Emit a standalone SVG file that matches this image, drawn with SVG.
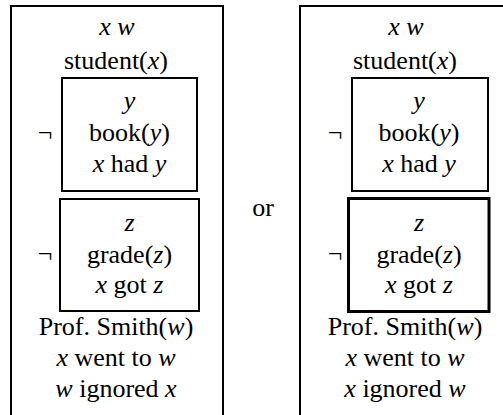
<svg xmlns="http://www.w3.org/2000/svg" width="503" height="415" viewBox="0 0 503 415" font-family="'Liberation Serif', 'Times New Roman', serif">
<style>
text{font-family:"Liberation Serif","Times New Roman",serif;font-size:26px;fill:#000;text-anchor:middle}
.i{font-style:italic}
.b{fill:none;stroke:#000;stroke-width:2}
.b3{fill:none;stroke:#000;stroke-width:3}
</style>
<rect width="503" height="415" fill="#fff"/>
<g id="left">
<path class="b" d="M11,415 V6 H223 V415"/>
<text x="117" y="35"><tspan class="i">x w</tspan></text>
<text x="116" y="69">student(<tspan class="i">x</tspan>)</text>
<g id="left-neg1">
<text x="45" y="141">¬</text>
<rect class="b" x="62" y="78" width="135" height="113"/>
<text x="129.5" y="109" class="i">y</text>
<text x="129.5" y="141">book(<tspan class="i">y</tspan>)</text>
<text x="129.5" y="172"><tspan class="i">x</tspan> had <tspan class="i">y</tspan></text>
</g>
<g id="left-neg2">
<text x="45" y="262">¬</text>
<rect class="b" x="60" y="199" width="139" height="112"/>
<text x="129.5" y="231" class="i">z</text>
<text x="129.5" y="263">grade(<tspan class="i">z</tspan>)</text>
<text x="129.5" y="293"><tspan class="i">x</tspan> got <tspan class="i">z</tspan></text>
</g>
<text x="116" y="335">Prof. Smith(<tspan class="i">w</tspan>)</text>
<text x="116" y="366"><tspan class="i">x</tspan> went to <tspan class="i">w</tspan></text>
<text x="116" y="397"><tspan class="i">w</tspan> ignored <tspan class="i">x</tspan></text>
</g>
<g id="or">
<text x="263" y="216">or</text>
</g>
<g id="right">
<path class="b" d="M300,415 V6 H505"/>
<text x="406" y="35"><tspan class="i">x w</tspan></text>
<text x="405" y="69">student(<tspan class="i">x</tspan>)</text>
<g id="right-neg1">
<text x="335" y="141">¬</text>
<rect class="b" x="352" y="78" width="136" height="113"/>
<text x="419" y="109" class="i">y</text>
<text x="419" y="141">book(<tspan class="i">y</tspan>)</text>
<text x="419" y="172"><tspan class="i">x</tspan> had <tspan class="i">y</tspan></text>
</g>
<g id="right-neg2">
<text x="335" y="262">¬</text>
<rect class="b3" x="348.5" y="198.5" width="140.5" height="113"/>
<text x="419" y="231" class="i">z</text>
<text x="419" y="263">grade(<tspan class="i">z</tspan>)</text>
<text x="419" y="293"><tspan class="i">x</tspan> got <tspan class="i">z</tspan></text>
</g>
<text x="405" y="335">Prof. Smith(<tspan class="i">w</tspan>)</text>
<text x="405" y="366"><tspan class="i">x</tspan> went to <tspan class="i">w</tspan></text>
<text x="405" y="397"><tspan class="i">x</tspan> ignored <tspan class="i">w</tspan></text>
</g>
</svg>
